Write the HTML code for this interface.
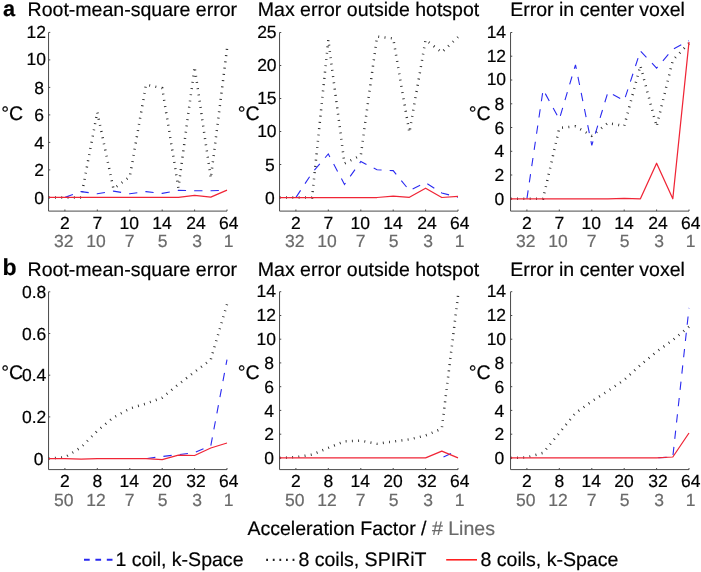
<!DOCTYPE html>
<html lang="en"><head><meta charset="utf-8"><title>Figure</title>
<style>
html,body{margin:0;padding:0;background:#fff;}
svg{display:block;}
text{text-rendering:geometricPrecision;stroke:#000;stroke-width:0.2px;font-family:"Liberation Sans",sans-serif;fill:#000;}
.t{font-size:19.55px;}
.k{font-size:17.5px;}
.g{fill:#6a6a6a;stroke:#6a6a6a;}
.b{font-weight:bold;font-size:23px;}
.ax{stroke:#4a4a4a;stroke-width:1;fill:none;}
.dot{stroke:#2a2a2a;stroke-width:2.5;fill:none;}
.blu{stroke:#2a2af0;stroke-width:1.1;stroke-dasharray:8.3 8.1;fill:none;}
.red{stroke:#f02536;stroke-width:1.25;fill:none;stroke-linejoin:round;}
</style></head><body>
<svg width="701" height="572" viewBox="0 0 701 572">
<rect width="701" height="572" fill="#fff"/>
<g>
<path class="ax" d="M48.55 32.5V211.1H227.0M48.55 197.4h1.7M48.55 169.9h1.7M48.55 142.4h1.7M48.55 114.9h1.7M48.55 87.4h1.7M48.55 59.9h1.7M48.55 32.4h1.7M64.9 211.1v-1.6M97.3 211.1v-1.6M129.8 211.1v-1.6M162.2 211.1v-1.6M194.6 211.1v-1.6M227.0 211.1v-1.6"/>
<text class="k" text-anchor="end" x="44.0" y="203.5">0</text>
<text class="k" text-anchor="end" x="44.0" y="176.0">2</text>
<text class="k" text-anchor="end" x="44.0" y="148.5">4</text>
<text class="k" text-anchor="end" x="44.0" y="121.0">6</text>
<text class="k" text-anchor="end" x="44.0" y="93.5">8</text>
<text class="k" text-anchor="end" x="45.9" y="65.2">10</text>
<text class="k" text-anchor="end" x="45.9" y="37.7">12</text>
<text class="k" text-anchor="middle" x="64.9" y="228.8">2</text>
<text class="k g" text-anchor="middle" x="63.7" y="247.2">32</text>
<text class="k" text-anchor="middle" x="97.4" y="228.8">7</text>
<text class="k g" text-anchor="middle" x="96.0" y="247.2">10</text>
<text class="k" text-anchor="middle" x="129.2" y="228.8">10</text>
<text class="k g" text-anchor="middle" x="129.7" y="247.2">7</text>
<text class="k" text-anchor="middle" x="162.0" y="228.8">14</text>
<text class="k g" text-anchor="middle" x="162.6" y="247.2">5</text>
<text class="k" text-anchor="middle" x="195.9" y="228.8">24</text>
<text class="k g" text-anchor="middle" x="197.2" y="247.2">3</text>
<text class="k" text-anchor="middle" x="228.8" y="228.8">64</text>
<text class="k g" text-anchor="middle" x="228.5" y="247.2">1</text>
<polyline class="dot" stroke-dasharray="0.9 5.393" points="48.7,197.4 64.9,197.4 81.1,197.4 97.3,112.2 113.5,188.9 129.8,176.8 146.0,84.7 162.2,88.1 178.4,187.8 194.6,66.8 210.8,178.2 227.0,48.9"/>
<polyline class="blu" stroke-dashoffset="16.21" points="64.9,197.4 81.1,191.6 97.3,193.8 113.5,191.1 129.8,193.8 146.0,191.6 162.2,193.4 178.4,190.4 194.6,190.7 210.8,190.7 227.0,190.2"/>
<polyline class="red" points="48.7,197.4 64.9,197.4 81.1,197.4 97.3,197.4 113.5,197.4 129.8,197.4 146.0,197.4 162.2,197.4 178.4,197.4 194.6,195.3 210.8,197.1 227.0,190.2"/>
</g>
<g>
<path class="ax" d="M279.55 32.5V211.1H458.0M279.55 197.5h1.7M279.55 164.5h1.7M279.55 131.5h1.7M279.55 98.5h1.7M279.55 65.5h1.7M279.55 32.5h1.7M295.9 211.1v-1.6M328.3 211.1v-1.6M360.8 211.1v-1.6M393.2 211.1v-1.6M425.6 211.1v-1.6M458.0 211.1v-1.6"/>
<text class="k" text-anchor="end" x="274.7" y="203.6">0</text>
<text class="k" text-anchor="end" x="274.7" y="170.6">5</text>
<text class="k" text-anchor="end" x="276.6" y="136.8">10</text>
<text class="k" text-anchor="end" x="276.6" y="103.8">15</text>
<text class="k" text-anchor="end" x="276.6" y="70.8">20</text>
<text class="k" text-anchor="end" x="276.6" y="37.8">25</text>
<text class="k" text-anchor="middle" x="295.9" y="228.8">2</text>
<text class="k g" text-anchor="middle" x="294.7" y="247.2">32</text>
<text class="k" text-anchor="middle" x="328.4" y="228.8">7</text>
<text class="k g" text-anchor="middle" x="327.0" y="247.2">10</text>
<text class="k" text-anchor="middle" x="360.2" y="228.8">10</text>
<text class="k g" text-anchor="middle" x="360.6" y="247.2">7</text>
<text class="k" text-anchor="middle" x="393.0" y="228.8">14</text>
<text class="k g" text-anchor="middle" x="393.6" y="247.2">5</text>
<text class="k" text-anchor="middle" x="426.9" y="228.8">24</text>
<text class="k g" text-anchor="middle" x="428.2" y="247.2">3</text>
<text class="k" text-anchor="middle" x="459.8" y="228.8">64</text>
<text class="k g" text-anchor="middle" x="459.5" y="247.2">1</text>
<polyline class="dot" stroke-dasharray="0.9 5.421" points="279.7,197.5 295.9,197.5 312.1,197.5 328.3,39.8 344.5,163.5 360.8,155.3 377.0,36.5 393.2,38.4 409.4,132.5 425.6,39.8 441.8,52.3 458.0,37.1"/>
<polyline class="blu" stroke-dashoffset="16.21" points="295.9,197.5 312.1,172.9 328.3,154.0 344.5,184.4 360.8,161.5 377.0,169.8 393.2,170.6 409.4,190.5 425.6,182.7 441.8,193.0 458.0,197.2"/>
<polyline class="red" points="279.7,197.5 295.9,197.5 312.1,197.5 328.3,197.5 344.5,197.5 360.8,197.5 377.0,197.5 393.2,196.2 409.4,197.3 425.6,188.2 441.8,197.5 458.0,196.3"/>
</g>
<g>
<path class="ax" d="M510.55 32.5V211.1H689.0M510.55 198.8h1.7M510.55 175.0h1.7M510.55 151.3h1.7M510.55 127.5h1.7M510.55 103.8h1.7M510.55 80.0h1.7M510.55 56.2h1.7M510.55 32.5h1.7M526.9 211.1v-1.6M559.3 211.1v-1.6M591.8 211.1v-1.6M624.2 211.1v-1.6M656.6 211.1v-1.6M689.0 211.1v-1.6"/>
<text class="k" text-anchor="end" x="504.2" y="204.9">0</text>
<text class="k" text-anchor="end" x="504.2" y="181.1">2</text>
<text class="k" text-anchor="end" x="504.2" y="157.4">4</text>
<text class="k" text-anchor="end" x="504.2" y="133.6">6</text>
<text class="k" text-anchor="end" x="504.2" y="109.9">8</text>
<text class="k" text-anchor="end" x="506.1" y="85.3">10</text>
<text class="k" text-anchor="end" x="506.1" y="61.5">12</text>
<text class="k" text-anchor="end" x="506.1" y="37.8">14</text>
<text class="k" text-anchor="middle" x="526.9" y="228.8">2</text>
<text class="k g" text-anchor="middle" x="525.7" y="247.2">32</text>
<text class="k" text-anchor="middle" x="559.4" y="228.8">7</text>
<text class="k g" text-anchor="middle" x="558.0" y="247.2">10</text>
<text class="k" text-anchor="middle" x="591.2" y="228.8">10</text>
<text class="k g" text-anchor="middle" x="591.6" y="247.2">7</text>
<text class="k" text-anchor="middle" x="624.0" y="228.8">14</text>
<text class="k g" text-anchor="middle" x="624.6" y="247.2">5</text>
<text class="k" text-anchor="middle" x="657.9" y="228.8">24</text>
<text class="k g" text-anchor="middle" x="659.2" y="247.2">3</text>
<text class="k" text-anchor="middle" x="690.8" y="228.8">64</text>
<text class="k g" text-anchor="middle" x="690.5" y="247.2">1</text>
<polyline class="dot" stroke-dasharray="0.9 5.444" points="510.7,198.8 526.9,198.8 543.1,198.8 559.3,128.0 575.5,126.3 591.8,135.8 608.0,123.0 624.2,126.0 640.4,65.7 656.6,126.5 672.8,60.2 689.0,43.2"/>
<polyline class="blu" stroke-dashoffset="16.21" points="526.9,198.8 543.1,89.6 559.3,119.3 575.5,64.8 591.8,145.3 608.0,91.9 624.2,100.6 640.4,50.9 656.6,68.1 672.8,49.3 689.0,40.8"/>
<polyline class="red" points="510.7,198.8 526.9,198.8 543.1,198.8 559.3,198.8 575.5,198.8 591.8,198.8 608.0,198.8 624.2,198.4 640.4,198.8 656.6,163.2 672.8,198.8 689.0,42.0"/>
</g>
<g>
<path class="ax" d="M48.55 291.8V469.6H227.0M48.55 458.6h1.7M48.55 416.9h1.7M48.55 375.2h1.7M48.55 333.5h1.7M48.55 291.8h1.7M64.9 469.6v-1.6M97.3 469.6v-1.6M129.8 469.6v-1.6M162.2 469.6v-1.6M194.6 469.6v-1.6M227.0 469.6v-1.6"/>
<text class="k" text-anchor="end" x="43.4" y="464.7">0</text>
<text class="k" text-anchor="end" x="46.3" y="422.9">0.2</text>
<text class="k" text-anchor="end" x="46.3" y="381.2">0.4</text>
<text class="k" text-anchor="end" x="46.3" y="339.5">0.6</text>
<text class="k" text-anchor="end" x="46.3" y="297.8">0.8</text>
<text class="k" text-anchor="middle" x="64.9" y="487.3">2</text>
<text class="k g" text-anchor="middle" x="63.7" y="505.7">50</text>
<text class="k" text-anchor="middle" x="97.4" y="487.3">8</text>
<text class="k g" text-anchor="middle" x="96.0" y="505.7">12</text>
<text class="k" text-anchor="middle" x="129.2" y="487.3">14</text>
<text class="k g" text-anchor="middle" x="129.7" y="505.7">7</text>
<text class="k" text-anchor="middle" x="162.0" y="487.3">20</text>
<text class="k g" text-anchor="middle" x="162.6" y="505.7">5</text>
<text class="k" text-anchor="middle" x="195.9" y="487.3">32</text>
<text class="k g" text-anchor="middle" x="197.2" y="505.7">3</text>
<text class="k" text-anchor="middle" x="228.8" y="487.3">64</text>
<text class="k g" text-anchor="middle" x="228.5" y="505.7">1</text>
<polyline class="dot" stroke-dasharray="0.9 5.366" points="48.7,458.6 64.9,457.3 81.1,447.3 97.3,430.9 113.5,417.5 129.8,408.6 146.0,403.6 162.2,397.7 178.4,384.4 194.6,371.9 210.8,359.6 227.0,304.3"/>
<polyline class="blu" stroke-dashoffset="15.26" points="146.0,458.6 162.2,456.5 178.4,454.6 194.6,452.6 210.8,445.7 227.0,359.6"/>
<polyline class="red" points="48.7,458.6 64.9,458.6 81.1,459.2 97.3,458.6 113.5,458.6 129.8,458.6 146.0,458.6 162.2,459.6 178.4,455.1 194.6,455.5 210.8,448.0 227.0,443.0"/>
</g>
<g>
<path class="ax" d="M279.55 291.8V469.6H458.0M279.55 457.9h1.7M279.55 434.2h1.7M279.55 410.4h1.7M279.55 386.7h1.7M279.55 362.9h1.7M279.55 339.2h1.7M279.55 315.5h1.7M279.55 291.7h1.7M295.9 469.6v-1.6M328.3 469.6v-1.6M360.8 469.6v-1.6M393.2 469.6v-1.6M425.6 469.6v-1.6M458.0 469.6v-1.6"/>
<text class="k" text-anchor="end" x="274.1" y="464.0">0</text>
<text class="k" text-anchor="end" x="274.1" y="440.3">2</text>
<text class="k" text-anchor="end" x="274.1" y="416.5">4</text>
<text class="k" text-anchor="end" x="274.1" y="392.8">6</text>
<text class="k" text-anchor="end" x="274.1" y="369.0">8</text>
<text class="k" text-anchor="end" x="276.0" y="344.5">10</text>
<text class="k" text-anchor="end" x="276.0" y="320.8">12</text>
<text class="k" text-anchor="end" x="276.0" y="297.0">14</text>
<text class="k" text-anchor="middle" x="295.9" y="487.3">2</text>
<text class="k g" text-anchor="middle" x="294.7" y="505.7">50</text>
<text class="k" text-anchor="middle" x="328.4" y="487.3">8</text>
<text class="k g" text-anchor="middle" x="327.0" y="505.7">12</text>
<text class="k" text-anchor="middle" x="360.2" y="487.3">14</text>
<text class="k g" text-anchor="middle" x="360.6" y="505.7">7</text>
<text class="k" text-anchor="middle" x="393.0" y="487.3">20</text>
<text class="k g" text-anchor="middle" x="393.6" y="505.7">5</text>
<text class="k" text-anchor="middle" x="426.9" y="487.3">32</text>
<text class="k g" text-anchor="middle" x="428.2" y="505.7">3</text>
<text class="k" text-anchor="middle" x="459.8" y="487.3">64</text>
<text class="k g" text-anchor="middle" x="459.5" y="505.7">1</text>
<polyline class="dot" stroke-dasharray="0.9 5.355" points="279.7,457.9 295.9,457.2 312.1,454.6 328.3,447.9 344.5,441.3 360.8,440.7 377.0,443.7 393.2,441.5 409.4,439.4 425.6,435.5 441.8,428.7 458.0,295.9"/>
<polyline class="blu" stroke-dashoffset="14.50" points="441.8,457.9 458.0,450.1"/>
<polyline class="red" points="279.7,457.9 295.9,457.9 312.1,457.9 328.3,457.9 344.5,457.9 360.8,457.9 377.0,457.9 393.2,457.9 409.4,457.9 425.6,457.9 441.8,451.2 458.0,457.9"/>
</g>
<g>
<path class="ax" d="M510.55 291.8V469.6H689.0M510.55 457.9h1.7M510.55 434.2h1.7M510.55 410.4h1.7M510.55 386.7h1.7M510.55 362.9h1.7M510.55 339.2h1.7M510.55 315.5h1.7M510.55 291.7h1.7M526.9 469.6v-1.6M559.3 469.6v-1.6M591.8 469.6v-1.6M624.2 469.6v-1.6M656.6 469.6v-1.6M689.0 469.6v-1.6"/>
<text class="k" text-anchor="end" x="504.2" y="464.0">0</text>
<text class="k" text-anchor="end" x="504.2" y="440.3">2</text>
<text class="k" text-anchor="end" x="504.2" y="416.5">4</text>
<text class="k" text-anchor="end" x="504.2" y="392.8">6</text>
<text class="k" text-anchor="end" x="504.2" y="369.0">8</text>
<text class="k" text-anchor="end" x="506.1" y="344.5">10</text>
<text class="k" text-anchor="end" x="506.1" y="320.8">12</text>
<text class="k" text-anchor="end" x="506.1" y="297.0">14</text>
<text class="k" text-anchor="middle" x="526.9" y="487.3">2</text>
<text class="k g" text-anchor="middle" x="525.7" y="505.7">50</text>
<text class="k" text-anchor="middle" x="559.4" y="487.3">8</text>
<text class="k g" text-anchor="middle" x="558.0" y="505.7">12</text>
<text class="k" text-anchor="middle" x="591.2" y="487.3">14</text>
<text class="k g" text-anchor="middle" x="591.6" y="505.7">7</text>
<text class="k" text-anchor="middle" x="624.0" y="487.3">20</text>
<text class="k g" text-anchor="middle" x="624.6" y="505.7">5</text>
<text class="k" text-anchor="middle" x="657.9" y="487.3">32</text>
<text class="k g" text-anchor="middle" x="659.2" y="505.7">3</text>
<text class="k" text-anchor="middle" x="690.8" y="487.3">64</text>
<text class="k g" text-anchor="middle" x="690.5" y="505.7">1</text>
<polyline class="dot" stroke-dasharray="0.9 5.386" points="510.7,457.9 526.9,457.3 543.1,452.9 559.3,433.0 575.5,413.0 591.8,401.4 608.0,390.8 624.2,379.9 640.4,365.0 656.6,351.7 672.8,340.0 689.0,326.7"/>
<polyline class="blu" stroke-dashoffset="14.69" points="656.6,457.9 672.8,457.0 689.0,307.9"/>
<polyline class="red" points="510.7,457.9 526.9,457.9 543.1,457.9 559.3,457.9 575.5,457.9 591.8,457.9 608.0,457.9 624.2,457.9 640.4,457.9 656.6,457.9 672.8,457.0 689.0,433.0"/>
</g>
<text class="t" x="27.6" y="15.8">Root-mean-square error</text>
<text class="t" x="257.8" y="15.8">Max error outside hotspot</text>
<text class="t" x="510.2" y="15.8">Error in center voxel</text>
<text class="t" x="27.6" y="275.5">Root-mean-square error</text>
<text class="t" x="257.8" y="275.5">Max error outside hotspot</text>
<text class="t" x="510.2" y="275.5">Error in center voxel</text>
<text class="b" style="font-size:21.7px" x="3.1" y="16.1">a</text>
<text class="b" x="2.5" y="274.5">b</text>
<text class="t" x="1.2" y="120.0">°C</text>
<text class="t" x="237.7" y="120.0">°C</text>
<text class="t" x="468.7" y="120.0">°C</text>
<text class="t" x="1.2" y="379.0">°C</text>
<text class="t" x="237.7" y="379.0">°C</text>
<text class="t" x="468.7" y="379.0">°C</text>
<text class="t" x="247.4" y="535">Acceleration Factor / <tspan class="g"># Lines</tspan></text>
<path d="M84 559.8H113" style="stroke:#2828f0;stroke-width:2;stroke-dasharray:5.7 5.7;fill:none"/>
<text class="t" x="115.4" y="566">1 coil, k-Space</text>
<path d="M266.2 559.9H294.5" style="stroke:#222;stroke-width:2.2;stroke-dasharray:1.8 4.8;fill:none"/>
<text class="t" x="298.4" y="566">8 coils, SPIRiT</text>
<path d="M446.2 559.8H477" style="stroke:#ff2020;stroke-width:1.6;fill:none"/>
<text class="t" x="480.5" y="566">8 coils, k-Space</text>
</svg>
</body></html>
